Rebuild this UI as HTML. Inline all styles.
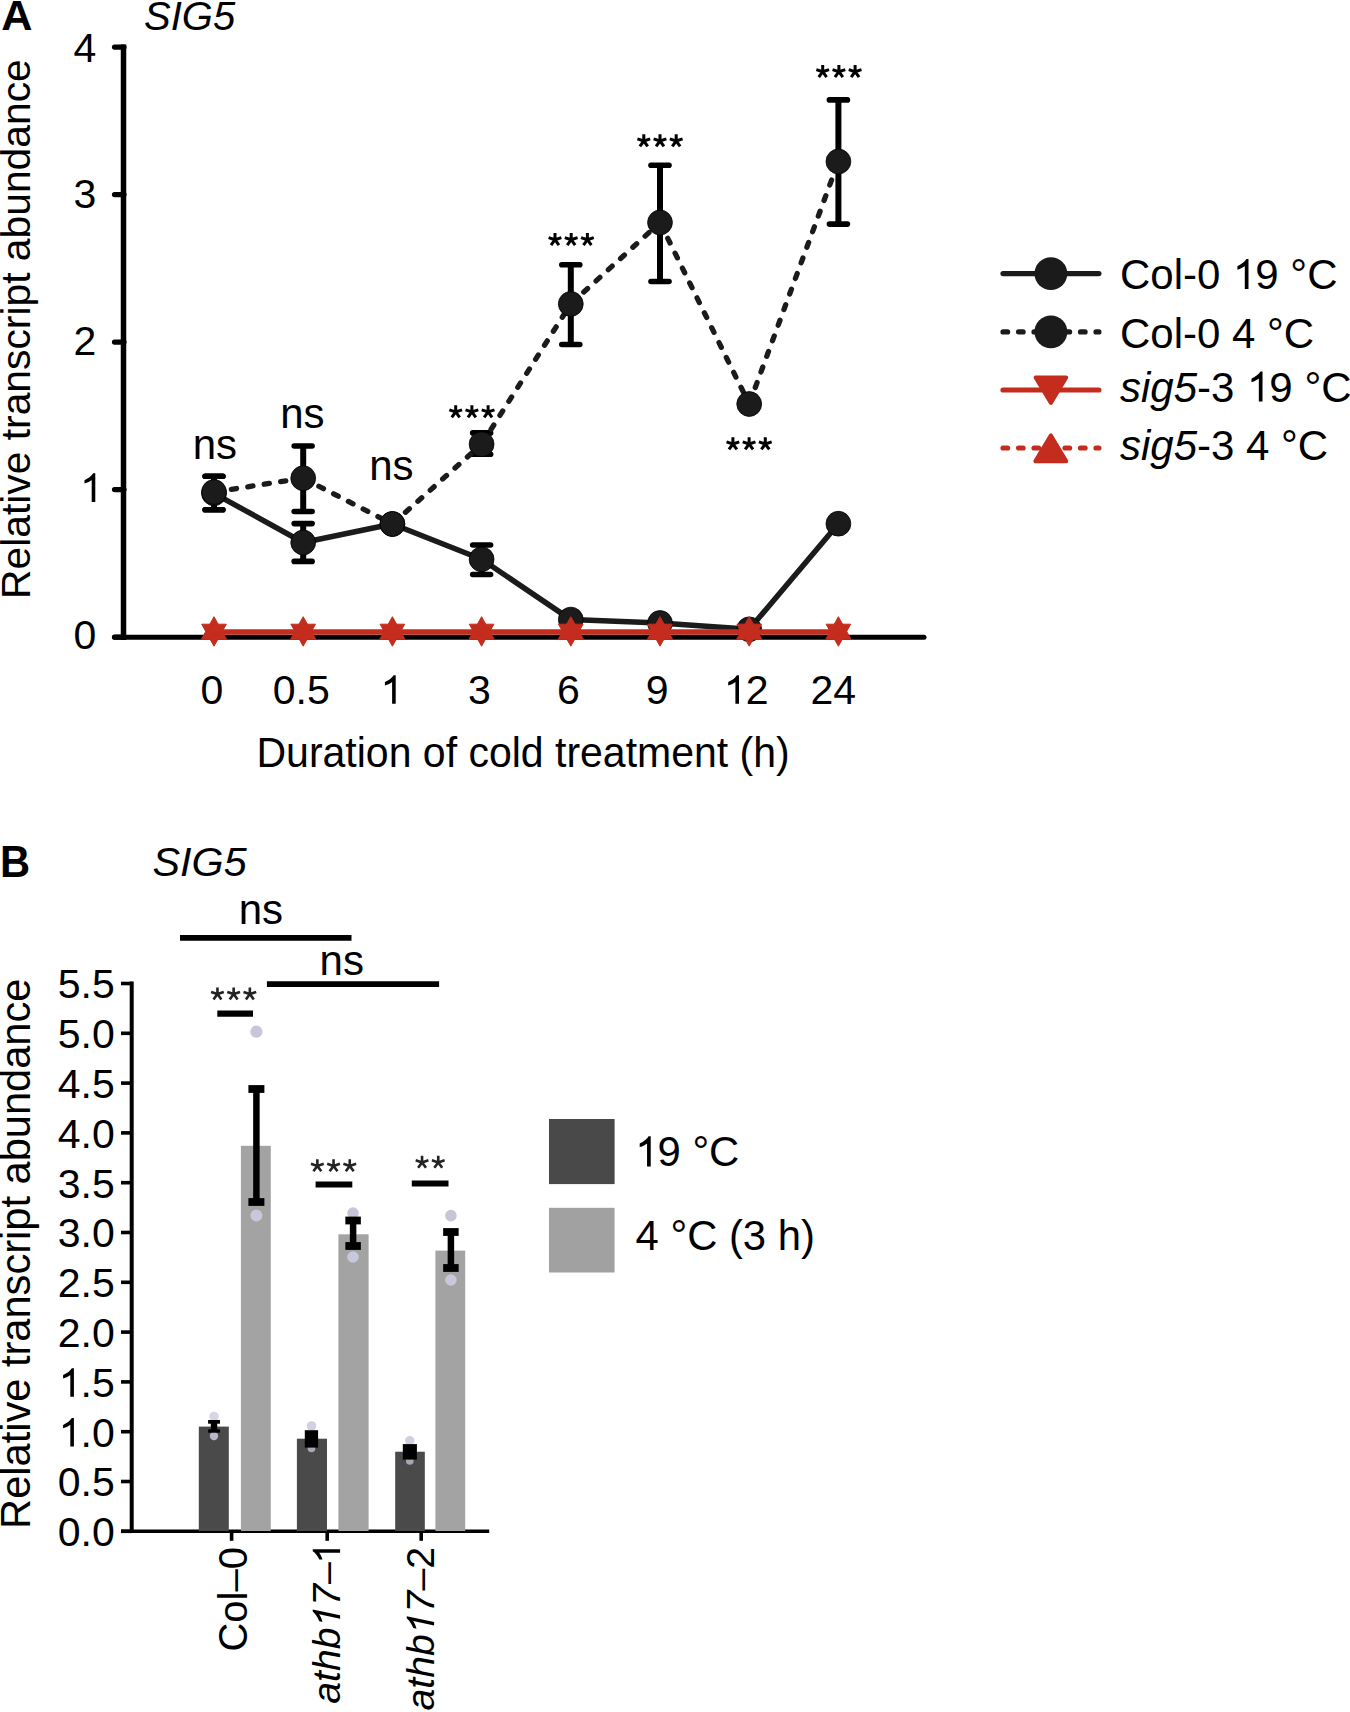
<!DOCTYPE html><html><head><meta charset="utf-8"><style>html,body{margin:0;padding:0;background:#fff;overflow:hidden;}svg{display:block;}text{font-family:"Liberation Sans", sans-serif;}</style></head><body><svg width="1350" height="1712" viewBox="0 0 1350 1712"><rect width="1350" height="1712" fill="#fff"/><text transform="translate(1.20 29.90) scale(1.03 1)" font-size="42" font-weight="bold">A</text><text transform="translate(144.00 29.60)" font-size="40" font-style="italic">SIG5</text><text transform="translate(29.60 599.00) rotate(-90)" font-size="40.8">Relative transcript abundance</text><line x1="123.5" y1="44.5" x2="123.5" y2="640" stroke="#000" stroke-width="5.5"/><line x1="114.5" y1="637.1" x2="124" y2="637.1" stroke="#000" stroke-width="5.2" stroke-linecap="round"/><text transform="translate(96.40 648.71)" font-size="41" text-anchor="end">0</text><line x1="114.5" y1="489.6" x2="124" y2="489.6" stroke="#000" stroke-width="5.2" stroke-linecap="round"/><text transform="translate(102.00 501.97)" font-size="41" text-anchor="end"> </text><line x1="114.5" y1="342.1" x2="124" y2="342.1" stroke="#000" stroke-width="5.2" stroke-linecap="round"/><text transform="translate(96.40 355.23)" font-size="41" text-anchor="end">2</text><line x1="114.5" y1="194.6" x2="124" y2="194.6" stroke="#000" stroke-width="5.2" stroke-linecap="round"/><text transform="translate(96.40 208.49)" font-size="41" text-anchor="end">3</text><line x1="114.5" y1="47.1" x2="124" y2="47.1" stroke="#000" stroke-width="5.2" stroke-linecap="round"/><text transform="translate(96.40 61.75)" font-size="41" text-anchor="end">4</text><line x1="114.5" y1="637.3" x2="924" y2="637.3" stroke="#000" stroke-width="5" stroke-linecap="round"/><text transform="translate(212.00 703.80)" font-size="41" text-anchor="middle">0</text><text transform="translate(301.30 703.80)" font-size="41" text-anchor="middle">0.5</text><text transform="translate(391.00 703.80)" font-size="41" text-anchor="middle"> </text><text transform="translate(479.30 703.80)" font-size="41" text-anchor="middle">3</text><text transform="translate(568.30 703.80)" font-size="41" text-anchor="middle">6</text><text transform="translate(657.20 703.80)" font-size="41" text-anchor="middle">9</text><text transform="translate(745.70 703.80)" font-size="41" text-anchor="middle"> 2</text><text transform="translate(833.20 703.80)" font-size="41" text-anchor="middle">24</text><text transform="translate(256.50 766.80) scale(1 1.02)" font-size="41">Duration of cold treatment (h)</text><line x1="214.0" y1="476.2" x2="214.0" y2="509.7" stroke="#000" stroke-width="6"/><line x1="205.1" y1="476.2" x2="222.9" y2="476.2" stroke="#000" stroke-width="5.6" stroke-linecap="round"/><line x1="205.1" y1="509.7" x2="222.9" y2="509.7" stroke="#000" stroke-width="5.6" stroke-linecap="round"/><line x1="303.2" y1="523.6" x2="303.2" y2="561.4" stroke="#000" stroke-width="6"/><line x1="294.2" y1="523.6" x2="312.1" y2="523.6" stroke="#000" stroke-width="5.6" stroke-linecap="round"/><line x1="294.2" y1="561.4" x2="312.1" y2="561.4" stroke="#000" stroke-width="5.6" stroke-linecap="round"/><line x1="481.6" y1="545.0" x2="481.6" y2="574.5" stroke="#000" stroke-width="6"/><line x1="472.7" y1="545.0" x2="490.6" y2="545.0" stroke="#000" stroke-width="5.6" stroke-linecap="round"/><line x1="472.7" y1="574.5" x2="490.6" y2="574.5" stroke="#000" stroke-width="5.6" stroke-linecap="round"/><line x1="214.0" y1="476.2" x2="214.0" y2="509.7" stroke="#000" stroke-width="6"/><line x1="205.1" y1="476.2" x2="222.9" y2="476.2" stroke="#000" stroke-width="5.6" stroke-linecap="round"/><line x1="205.1" y1="509.7" x2="222.9" y2="509.7" stroke="#000" stroke-width="5.6" stroke-linecap="round"/><line x1="303.2" y1="446.0" x2="303.2" y2="511.5" stroke="#000" stroke-width="6"/><line x1="294.2" y1="446.0" x2="312.1" y2="446.0" stroke="#000" stroke-width="5.6" stroke-linecap="round"/><line x1="294.2" y1="511.5" x2="312.1" y2="511.5" stroke="#000" stroke-width="5.6" stroke-linecap="round"/><line x1="481.6" y1="432.9" x2="481.6" y2="454.3" stroke="#000" stroke-width="6"/><line x1="472.7" y1="432.9" x2="490.6" y2="432.9" stroke="#000" stroke-width="5.6" stroke-linecap="round"/><line x1="472.7" y1="454.3" x2="490.6" y2="454.3" stroke="#000" stroke-width="5.6" stroke-linecap="round"/><line x1="570.8" y1="264.7" x2="570.8" y2="344.5" stroke="#000" stroke-width="6"/><line x1="561.8" y1="264.7" x2="579.8" y2="264.7" stroke="#000" stroke-width="5.6" stroke-linecap="round"/><line x1="561.8" y1="344.5" x2="579.8" y2="344.5" stroke="#000" stroke-width="5.6" stroke-linecap="round"/><line x1="660.0" y1="165.2" x2="660.0" y2="281.5" stroke="#000" stroke-width="6"/><line x1="651.0" y1="165.2" x2="669.0" y2="165.2" stroke="#000" stroke-width="5.6" stroke-linecap="round"/><line x1="651.0" y1="281.5" x2="669.0" y2="281.5" stroke="#000" stroke-width="5.6" stroke-linecap="round"/><line x1="838.4" y1="99.9" x2="838.4" y2="224.1" stroke="#000" stroke-width="6"/><line x1="829.4" y1="99.9" x2="847.4" y2="99.9" stroke="#000" stroke-width="5.6" stroke-linecap="round"/><line x1="829.4" y1="224.1" x2="847.4" y2="224.1" stroke="#000" stroke-width="5.6" stroke-linecap="round"/><polyline points="214.0,493.3 303.2,542.5 392.4,524.0 481.6,559.3 570.8,619.6 660.0,623.0 749.2,629.3 838.4,523.7" fill="none" stroke="#1b1b1b" stroke-width="5.5" stroke-linejoin="round" stroke-linecap="round"/><line x1="214.0" y1="492.0" x2="303.2" y2="478.2" stroke="#1b1b1b" stroke-width="5.3" stroke-linecap="round" stroke-dasharray="5.2 11.4" stroke-dashoffset="-1"/><line x1="303.2" y1="478.2" x2="392.4" y2="524.0" stroke="#1b1b1b" stroke-width="5.3" stroke-linecap="round" stroke-dasharray="5.2 11.4" stroke-dashoffset="-1"/><line x1="392.4" y1="524.0" x2="481.6" y2="444.2" stroke="#1b1b1b" stroke-width="5.3" stroke-linecap="round" stroke-dasharray="5.2 11.4" stroke-dashoffset="-1"/><line x1="481.6" y1="444.2" x2="570.8" y2="303.9" stroke="#1b1b1b" stroke-width="5.3" stroke-linecap="round" stroke-dasharray="5.2 11.4" stroke-dashoffset="-1"/><line x1="570.8" y1="303.9" x2="660.0" y2="222.5" stroke="#1b1b1b" stroke-width="5.3" stroke-linecap="round" stroke-dasharray="5.2 11.4" stroke-dashoffset="-1"/><line x1="660.0" y1="222.5" x2="749.2" y2="404.0" stroke="#1b1b1b" stroke-width="5.3" stroke-linecap="round" stroke-dasharray="5.2 11.4" stroke-dashoffset="-1"/><line x1="749.2" y1="404.0" x2="838.4" y2="161.5" stroke="#1b1b1b" stroke-width="5.3" stroke-linecap="round" stroke-dasharray="5.2 11.4" stroke-dashoffset="-1"/><circle cx="214.0" cy="493.3" r="12.4" fill="#1b1b1b" stroke="#000" stroke-width="0.8"/><circle cx="303.2" cy="542.5" r="12.4" fill="#1b1b1b" stroke="#000" stroke-width="0.8"/><circle cx="392.4" cy="524.0" r="12.4" fill="#1b1b1b" stroke="#000" stroke-width="0.8"/><circle cx="481.6" cy="559.3" r="12.4" fill="#1b1b1b" stroke="#000" stroke-width="0.8"/><circle cx="570.8" cy="619.6" r="12.4" fill="#1b1b1b" stroke="#000" stroke-width="0.8"/><circle cx="660.0" cy="623.0" r="12.4" fill="#1b1b1b" stroke="#000" stroke-width="0.8"/><circle cx="749.2" cy="629.3" r="12.4" fill="#1b1b1b" stroke="#000" stroke-width="0.8"/><circle cx="838.4" cy="523.7" r="12.4" fill="#1b1b1b" stroke="#000" stroke-width="0.8"/><circle cx="214.0" cy="492.0" r="12.4" fill="#1b1b1b" stroke="#000" stroke-width="0.8"/><circle cx="303.2" cy="478.2" r="12.4" fill="#1b1b1b" stroke="#000" stroke-width="0.8"/><circle cx="392.4" cy="524.0" r="12.4" fill="#1b1b1b" stroke="#000" stroke-width="0.8"/><circle cx="481.6" cy="444.2" r="12.4" fill="#1b1b1b" stroke="#000" stroke-width="0.8"/><circle cx="570.8" cy="303.9" r="12.4" fill="#1b1b1b" stroke="#000" stroke-width="0.8"/><circle cx="660.0" cy="222.5" r="12.4" fill="#1b1b1b" stroke="#000" stroke-width="0.8"/><circle cx="749.2" cy="404.0" r="12.4" fill="#1b1b1b" stroke="#000" stroke-width="0.8"/><circle cx="838.4" cy="161.5" r="12.4" fill="#1b1b1b" stroke="#000" stroke-width="0.8"/><polyline points="214.0,632.0 303.2,632.0 392.4,632.0 481.6,632.0 570.8,632.0 660.0,632.0 749.2,632.0 838.4,632.0" fill="none" stroke="#c42d1e" stroke-width="5.5" stroke-linejoin="round" stroke-linecap="round"/><polygon points="201.7,624.2 226.3,624.2 214.0,646.2" fill="#c42d1e" stroke="#c42d1e" stroke-width="1" stroke-linejoin="round"/><polygon points="201.4,639.2 226.6,639.2 214.0,616.7" fill="#c42d1e" stroke="#c42d1e" stroke-width="1" stroke-linejoin="round"/><polygon points="290.9,624.2 315.5,624.2 303.2,646.2" fill="#c42d1e" stroke="#c42d1e" stroke-width="1" stroke-linejoin="round"/><polygon points="290.6,639.2 315.8,639.2 303.2,616.7" fill="#c42d1e" stroke="#c42d1e" stroke-width="1" stroke-linejoin="round"/><polygon points="380.1,624.2 404.7,624.2 392.4,646.2" fill="#c42d1e" stroke="#c42d1e" stroke-width="1" stroke-linejoin="round"/><polygon points="379.8,639.2 405.0,639.2 392.4,616.7" fill="#c42d1e" stroke="#c42d1e" stroke-width="1" stroke-linejoin="round"/><polygon points="469.3,624.2 493.9,624.2 481.6,646.2" fill="#c42d1e" stroke="#c42d1e" stroke-width="1" stroke-linejoin="round"/><polygon points="469.0,639.2 494.2,639.2 481.6,616.7" fill="#c42d1e" stroke="#c42d1e" stroke-width="1" stroke-linejoin="round"/><polygon points="558.5,624.2 583.1,624.2 570.8,646.2" fill="#c42d1e" stroke="#c42d1e" stroke-width="1" stroke-linejoin="round"/><polygon points="558.2,639.2 583.4,639.2 570.8,616.7" fill="#c42d1e" stroke="#c42d1e" stroke-width="1" stroke-linejoin="round"/><polygon points="647.7,624.2 672.3,624.2 660.0,646.2" fill="#c42d1e" stroke="#c42d1e" stroke-width="1" stroke-linejoin="round"/><polygon points="647.4,639.2 672.6,639.2 660.0,616.7" fill="#c42d1e" stroke="#c42d1e" stroke-width="1" stroke-linejoin="round"/><polygon points="736.9,624.2 761.5,624.2 749.2,646.2" fill="#c42d1e" stroke="#c42d1e" stroke-width="1" stroke-linejoin="round"/><polygon points="736.6,639.2 761.8,639.2 749.2,616.7" fill="#c42d1e" stroke="#c42d1e" stroke-width="1" stroke-linejoin="round"/><polygon points="826.1,624.2 850.7,624.2 838.4,646.2" fill="#c42d1e" stroke="#c42d1e" stroke-width="1" stroke-linejoin="round"/><polygon points="825.8,639.2 851.0,639.2 838.4,616.7" fill="#c42d1e" stroke="#c42d1e" stroke-width="1" stroke-linejoin="round"/><text transform="translate(214.90 458.50)" font-size="42" text-anchor="middle">ns</text><text transform="translate(302.40 427.90)" font-size="42" text-anchor="middle">ns</text><text transform="translate(391.30 480.30)" font-size="42" text-anchor="middle">ns</text><path d="M455.70,411.90L455.70,405.20M455.70,411.90L462.07,409.83M455.70,411.90L449.33,409.83M455.70,411.90L459.64,417.32M455.70,411.90L451.76,417.32" stroke="#000" stroke-width="3.0" fill="none"/><path d="M471.90,411.90L471.90,405.20M471.90,411.90L478.27,409.83M471.90,411.90L465.53,409.83M471.90,411.90L475.84,417.32M471.90,411.90L467.96,417.32" stroke="#000" stroke-width="3.0" fill="none"/><path d="M488.10,411.90L488.10,405.20M488.10,411.90L494.47,409.83M488.10,411.90L481.73,409.83M488.10,411.90L492.04,417.32M488.10,411.90L484.16,417.32" stroke="#000" stroke-width="3.0" fill="none"/><path d="M555.00,239.70L555.00,233.00M555.00,239.70L561.37,237.63M555.00,239.70L548.63,237.63M555.00,239.70L558.94,245.12M555.00,239.70L551.06,245.12" stroke="#000" stroke-width="3.0" fill="none"/><path d="M571.20,239.70L571.20,233.00M571.20,239.70L577.57,237.63M571.20,239.70L564.83,237.63M571.20,239.70L575.14,245.12M571.20,239.70L567.26,245.12" stroke="#000" stroke-width="3.0" fill="none"/><path d="M587.40,239.70L587.40,233.00M587.40,239.70L593.77,237.63M587.40,239.70L581.03,237.63M587.40,239.70L591.34,245.12M587.40,239.70L583.46,245.12" stroke="#000" stroke-width="3.0" fill="none"/><path d="M643.80,141.00L643.80,134.30M643.80,141.00L650.17,138.93M643.80,141.00L637.43,138.93M643.80,141.00L647.74,146.42M643.80,141.00L639.86,146.42" stroke="#000" stroke-width="3.0" fill="none"/><path d="M660.00,141.00L660.00,134.30M660.00,141.00L666.37,138.93M660.00,141.00L653.63,138.93M660.00,141.00L663.94,146.42M660.00,141.00L656.06,146.42" stroke="#000" stroke-width="3.0" fill="none"/><path d="M676.20,141.00L676.20,134.30M676.20,141.00L682.57,138.93M676.20,141.00L669.83,138.93M676.20,141.00L680.14,146.42M676.20,141.00L672.26,146.42" stroke="#000" stroke-width="3.0" fill="none"/><path d="M732.90,444.00L732.90,437.30M732.90,444.00L739.27,441.93M732.90,444.00L726.53,441.93M732.90,444.00L736.84,449.42M732.90,444.00L728.96,449.42" stroke="#000" stroke-width="3.0" fill="none"/><path d="M749.10,444.00L749.10,437.30M749.10,444.00L755.47,441.93M749.10,444.00L742.73,441.93M749.10,444.00L753.04,449.42M749.10,444.00L745.16,449.42" stroke="#000" stroke-width="3.0" fill="none"/><path d="M765.30,444.00L765.30,437.30M765.30,444.00L771.67,441.93M765.30,444.00L758.93,441.93M765.30,444.00L769.24,449.42M765.30,444.00L761.36,449.42" stroke="#000" stroke-width="3.0" fill="none"/><path d="M822.70,71.70L822.70,65.00M822.70,71.70L829.07,69.63M822.70,71.70L816.33,69.63M822.70,71.70L826.64,77.12M822.70,71.70L818.76,77.12" stroke="#000" stroke-width="3.0" fill="none"/><path d="M838.90,71.70L838.90,65.00M838.90,71.70L845.27,69.63M838.90,71.70L832.53,69.63M838.90,71.70L842.84,77.12M838.90,71.70L834.96,77.12" stroke="#000" stroke-width="3.0" fill="none"/><path d="M855.10,71.70L855.10,65.00M855.10,71.70L861.47,69.63M855.10,71.70L848.73,69.63M855.10,71.70L859.04,77.12M855.10,71.70L851.16,77.12" stroke="#000" stroke-width="3.0" fill="none"/><line x1="1003.0" y1="273.6" x2="1098.9" y2="273.6" stroke="#1b1b1b" stroke-width="5.2" stroke-linecap="round"/><circle cx="1050.9" cy="273.6" r="16.4" fill="#1b1b1b"/><line x1="1003.0" y1="331.9" x2="1098.9" y2="331.9" stroke="#1b1b1b" stroke-width="5.2" stroke-linecap="round" stroke-dasharray="4.6 10.9"/><circle cx="1050.9" cy="331.9" r="16.4" fill="#1b1b1b"/><line x1="1003.0" y1="390" x2="1098.9" y2="390" stroke="#c42d1e" stroke-width="5.2" stroke-linecap="round"/><polygon points="1035.6,377.4 1066.2,377.4 1050.9,402.9" fill="#c42d1e" stroke="#c42d1e" stroke-width="4" stroke-linejoin="round"/><line x1="1003.0" y1="448" x2="1098.9" y2="448" stroke="#c42d1e" stroke-width="5.2" stroke-linecap="round" stroke-dasharray="4.6 10.9"/><polygon points="1035.3,461.3 1066.3,461.3 1050.9,435.4" fill="#c42d1e" stroke="#c42d1e" stroke-width="4" stroke-linejoin="round"/><text transform="translate(1120.00 288.90) scale(1 1.02)" font-size="42">Col-0  9 °C</text><text transform="translate(1120.00 347.50) scale(1 1.02)" font-size="42">Col-0 4 °C</text><text transform="translate(1120.00 401.50) scale(1 1.02)" font-size="42"><tspan font-style="italic">sig5</tspan>-3  9 °C</text><text transform="translate(1120.00 460.20) scale(1 1.02)" font-size="42"><tspan font-style="italic">sig5</tspan>-3 4 °C</text><text transform="translate(0.00 876.70) scale(0.97 1.03)" font-size="43" font-weight="bold">B</text><text transform="translate(152.50 876.30)" font-size="41.3" font-style="italic">SIG5</text><text transform="translate(29.80 1528.90) rotate(-90)" font-size="41.6">Relative transcript abundance</text><line x1="131.7" y1="981.6" x2="131.7" y2="1532.9" stroke="#000" stroke-width="4"/><line x1="121" y1="1531.3" x2="132" y2="1531.3" stroke="#000" stroke-width="3.6"/><text transform="translate(114.80 1546.20)" font-size="41" text-anchor="end">0.0</text><line x1="121" y1="1481.5" x2="132" y2="1481.5" stroke="#000" stroke-width="3.6"/><text transform="translate(114.80 1496.40)" font-size="41" text-anchor="end">0.5</text><line x1="121" y1="1431.7" x2="132" y2="1431.7" stroke="#000" stroke-width="3.6"/><text transform="translate(114.80 1446.60)" font-size="41" text-anchor="end"> .0</text><line x1="121" y1="1381.9" x2="132" y2="1381.9" stroke="#000" stroke-width="3.6"/><text transform="translate(114.80 1396.80)" font-size="41" text-anchor="end"> .5</text><line x1="121" y1="1332.1" x2="132" y2="1332.1" stroke="#000" stroke-width="3.6"/><text transform="translate(114.80 1347.00)" font-size="41" text-anchor="end">2.0</text><line x1="121" y1="1282.3" x2="132" y2="1282.3" stroke="#000" stroke-width="3.6"/><text transform="translate(114.80 1297.20)" font-size="41" text-anchor="end">2.5</text><line x1="121" y1="1232.5" x2="132" y2="1232.5" stroke="#000" stroke-width="3.6"/><text transform="translate(114.80 1247.40)" font-size="41" text-anchor="end">3.0</text><line x1="121" y1="1182.7" x2="132" y2="1182.7" stroke="#000" stroke-width="3.6"/><text transform="translate(114.80 1197.60)" font-size="41" text-anchor="end">3.5</text><line x1="121" y1="1132.9" x2="132" y2="1132.9" stroke="#000" stroke-width="3.6"/><text transform="translate(114.80 1147.80)" font-size="41" text-anchor="end">4.0</text><line x1="121" y1="1083.1" x2="132" y2="1083.1" stroke="#000" stroke-width="3.6"/><text transform="translate(114.80 1098.00)" font-size="41" text-anchor="end">4.5</text><line x1="121" y1="1033.3" x2="132" y2="1033.3" stroke="#000" stroke-width="3.6"/><text transform="translate(114.80 1048.20)" font-size="41" text-anchor="end">5.0</text><line x1="121" y1="983.5" x2="132" y2="983.5" stroke="#000" stroke-width="3.6"/><text transform="translate(114.80 998.40)" font-size="41" text-anchor="end">5.5</text><line x1="121" y1="1531.2" x2="489.2" y2="1531.2" stroke="#000" stroke-width="3.6"/><line x1="231.6" y1="1531" x2="231.6" y2="1540.8" stroke="#000" stroke-width="3.6"/><line x1="327.2" y1="1531" x2="327.2" y2="1540.8" stroke="#000" stroke-width="3.6"/><line x1="421.2" y1="1531" x2="421.2" y2="1540.8" stroke="#000" stroke-width="3.6"/><rect x="198.8" y="1426.6" width="30.0" height="104.4" fill="#4a4a4a"/><rect x="240.9" y="1145.8" width="29.9" height="385.2" fill="#a3a3a3"/><rect x="296.9" y="1438.7" width="30.1" height="92.3" fill="#4a4a4a"/><rect x="338.4" y="1234.3" width="30.2" height="296.7" fill="#a3a3a3"/><rect x="395.2" y="1451.7" width="29.6" height="79.3" fill="#4a4a4a"/><rect x="435.4" y="1250.6" width="29.8" height="280.4" fill="#a3a3a3"/><circle cx="256.4" cy="1031.7" r="6.1" fill="#c6c6d8"/><circle cx="256.4" cy="1215.4" r="6" fill="#c8c8dc"/><circle cx="353" cy="1213.1" r="5.8" fill="#c6c6d8"/><circle cx="353" cy="1257" r="5.8" fill="#c8c8dc"/><circle cx="450.9" cy="1215.6" r="5.8" fill="#c6c6d8"/><circle cx="450.9" cy="1280" r="5.8" fill="#c8c8dc"/><circle cx="214" cy="1416.5" r="4.8" fill="#d6d6e6"/><circle cx="214" cy="1436" r="4.2" fill="#b8b8c8"/><circle cx="311.5" cy="1426" r="4.8" fill="#d0d0e0"/><circle cx="311.5" cy="1448.5" r="3.8" fill="#a8a8b4"/><circle cx="409.8" cy="1440.8" r="4.8" fill="#d0d0e0"/><circle cx="409.8" cy="1461" r="3.8" fill="#a8a8b4"/><line x1="256.4" y1="1089" x2="256.4" y2="1202" stroke="#000" stroke-width="6.5"/><rect x="248.39999999999998" y="1085.1" width="16" height="7.8" fill="#000"/><rect x="248.39999999999998" y="1198.1" width="16" height="7.8" fill="#000"/><line x1="353.1" y1="1220.5" x2="353.1" y2="1246" stroke="#000" stroke-width="6.5"/><rect x="345.35" y="1216.6" width="15.5" height="7.8" fill="#000"/><rect x="345.35" y="1242.1" width="15.5" height="7.8" fill="#000"/><line x1="450.9" y1="1232" x2="450.9" y2="1268" stroke="#000" stroke-width="6.5"/><rect x="443.15" y="1228.1" width="15.5" height="7.8" fill="#000"/><rect x="443.15" y="1264.1" width="15.5" height="7.8" fill="#000"/><rect x="208.1" y="1420" width="11.9" height="3.7" fill="#000"/><rect x="210.8" y="1422" width="6.4" height="9" fill="#000"/><rect x="208.1" y="1429.4" width="11.9" height="3.3" fill="#000"/><rect x="304.8" y="1430.2" width="13.3" height="17.4" fill="#000"/><rect x="402.8" y="1444.1" width="14.1" height="15.5" fill="#000"/><line x1="180" y1="937.9" x2="351.5" y2="937.9" stroke="#000" stroke-width="5.8"/><text transform="translate(260.80 924.20)" font-size="42" text-anchor="middle">ns</text><line x1="266.9" y1="984.2" x2="439.1" y2="984.2" stroke="#000" stroke-width="5.8"/><text transform="translate(341.70 975.10)" font-size="42" text-anchor="middle">ns</text><line x1="217.3" y1="1013.6" x2="253" y2="1013.6" stroke="#000" stroke-width="6.4"/><line x1="315.6" y1="1184.6" x2="352.3" y2="1184.6" stroke="#000" stroke-width="6"/><line x1="411.8" y1="1183.5" x2="448.5" y2="1183.5" stroke="#000" stroke-width="6"/><path d="M217.45,994.10L217.45,987.40M217.45,994.10L223.82,992.03M217.45,994.10L211.08,992.03M217.45,994.10L221.39,999.52M217.45,994.10L213.51,999.52" stroke="#222" stroke-width="2.6" fill="none"/><path d="M233.65,994.10L233.65,987.40M233.65,994.10L240.02,992.03M233.65,994.10L227.28,992.03M233.65,994.10L237.59,999.52M233.65,994.10L229.71,999.52" stroke="#222" stroke-width="2.6" fill="none"/><path d="M249.85,994.10L249.85,987.40M249.85,994.10L256.22,992.03M249.85,994.10L243.48,992.03M249.85,994.10L253.79,999.52M249.85,994.10L245.91,999.52" stroke="#222" stroke-width="2.6" fill="none"/><path d="M317.35,1165.90L317.35,1159.20M317.35,1165.90L323.72,1163.83M317.35,1165.90L310.98,1163.83M317.35,1165.90L321.29,1171.32M317.35,1165.90L313.41,1171.32" stroke="#222" stroke-width="2.6" fill="none"/><path d="M333.55,1165.90L333.55,1159.20M333.55,1165.90L339.92,1163.83M333.55,1165.90L327.18,1163.83M333.55,1165.90L337.49,1171.32M333.55,1165.90L329.61,1171.32" stroke="#222" stroke-width="2.6" fill="none"/><path d="M349.75,1165.90L349.75,1159.20M349.75,1165.90L356.12,1163.83M349.75,1165.90L343.38,1163.83M349.75,1165.90L353.69,1171.32M349.75,1165.90L345.81,1171.32" stroke="#222" stroke-width="2.6" fill="none"/><path d="M422.05,1162.40L422.05,1155.70M422.05,1162.40L428.42,1160.33M422.05,1162.40L415.68,1160.33M422.05,1162.40L425.99,1167.82M422.05,1162.40L418.11,1167.82" stroke="#222" stroke-width="2.6" fill="none"/><path d="M438.25,1162.40L438.25,1155.70M438.25,1162.40L444.62,1160.33M438.25,1162.40L431.88,1160.33M438.25,1162.40L442.19,1167.82M438.25,1162.40L434.31,1167.82" stroke="#222" stroke-width="2.6" fill="none"/><rect x="549" y="1119" width="65.6" height="65.1" fill="#494949"/><rect x="549" y="1207.8" width="65.6" height="64.7" fill="#a1a1a1"/><text transform="translate(634.30 1166.40) scale(1 1.03)" font-size="41.8"> 9 °C</text><text transform="translate(635.60 1250.30) scale(1 1.03)" font-size="41.8">4 °C (3 h)</text><text transform="translate(246.50 1547.00) rotate(-90)" font-size="40" text-anchor="end">Col–0</text><text transform="translate(340.10 1542.90) rotate(-90)" font-size="39.2" text-anchor="end"><tspan font-style="italic">athb 7</tspan>–<tspan dx="-2.6"> </tspan></text><text transform="translate(434.10 1547.00) rotate(-90)" font-size="39.2" text-anchor="end"><tspan font-style="italic">athb 7</tspan>–2</text><path transform="translate(102.00 501.97)" d="M-10.30,0.00L-6.70,0.00L-6.70,-28.63L-8.80,-28.63C-10.20,-26.23 -13.40,-23.62 -17.51,-21.72L-17.51,-18.42C-14.40,-19.32 -11.90,-20.52 -10.30,-21.92Z" fill="#000"/><path transform="translate(391.00 703.80)" d="M1.11,0.00L4.71,0.00L4.71,-28.63L2.61,-28.63C1.21,-26.23 -2.00,-23.62 -6.10,-21.72L-6.10,-18.42C-3.00,-19.32 -0.50,-20.52 1.11,-21.92Z" fill="#000"/><path transform="translate(745.70 703.80)" d="M-10.29,0.00L-6.69,0.00L-6.69,-28.63L-8.79,-28.63C-10.19,-26.23 -13.40,-23.62 -17.50,-21.72L-17.50,-18.42C-14.40,-19.32 -11.89,-20.52 -10.29,-21.92Z" fill="#000"/><path transform="translate(1120.00 288.90) scale(1 1.02)" d="M124.80,0.00L128.49,0.00L128.49,-29.33L126.34,-29.33C124.90,-26.87 121.62,-24.20 117.42,-22.25L117.42,-18.87C120.60,-19.79 123.16,-21.02 124.80,-22.46Z" fill="#000"/><path transform="translate(1120.00 401.50) scale(1 1.02)" d="M138.83,0.00L142.52,0.00L142.52,-29.33L140.37,-29.33C138.93,-26.87 135.65,-24.20 131.45,-22.25L131.45,-18.87C134.63,-19.79 137.19,-21.02 138.83,-22.46Z" fill="#000"/><path transform="translate(114.80 1446.60)" d="M-44.49,0.00L-40.88,0.00L-40.88,-28.63L-42.99,-28.63C-44.39,-26.23 -47.59,-23.62 -51.69,-21.72L-51.69,-18.42C-48.59,-19.32 -46.09,-20.52 -44.49,-21.92Z" fill="#000"/><path transform="translate(114.80 1396.80)" d="M-44.49,0.00L-40.88,0.00L-40.88,-28.63L-42.99,-28.63C-44.39,-26.23 -47.59,-23.62 -51.69,-21.72L-51.69,-18.42C-48.59,-19.32 -46.09,-20.52 -44.49,-21.92Z" fill="#000"/><path transform="translate(634.30 1166.40) scale(1 1.03)" d="M12.76,0.00L16.43,0.00L16.43,-29.19L14.29,-29.19C12.86,-26.74 9.59,-24.08 5.41,-22.15L5.41,-18.78C8.57,-19.70 11.12,-20.92 12.76,-22.35Z" fill="#000"/><path transform="translate(340.10 1542.90) rotate(-90)" d="M-75.88,0.00L-72.43,0.00L-66.62,-27.37L-68.63,-27.37C-70.45,-25.07 -74.04,-22.59 -78.35,-20.77L-79.03,-17.61C-75.88,-18.47 -73.24,-19.62 -71.42,-20.96ZM-9.83,0.00L-6.39,0.00L-6.39,-27.37L-8.40,-27.37C-9.74,-25.07 -12.80,-22.59 -16.72,-20.77L-16.72,-17.61C-13.76,-18.47 -11.37,-19.62 -9.83,-20.96Z" fill="#000"/><path transform="translate(434.10 1547.00) rotate(-90)" d="M-78.48,0.00L-75.03,0.00L-69.22,-27.37L-71.23,-27.37C-73.05,-25.07 -76.64,-22.59 -80.95,-20.77L-81.63,-17.61C-78.48,-18.47 -75.84,-19.62 -74.02,-20.96Z" fill="#000"/></svg></body></html>
